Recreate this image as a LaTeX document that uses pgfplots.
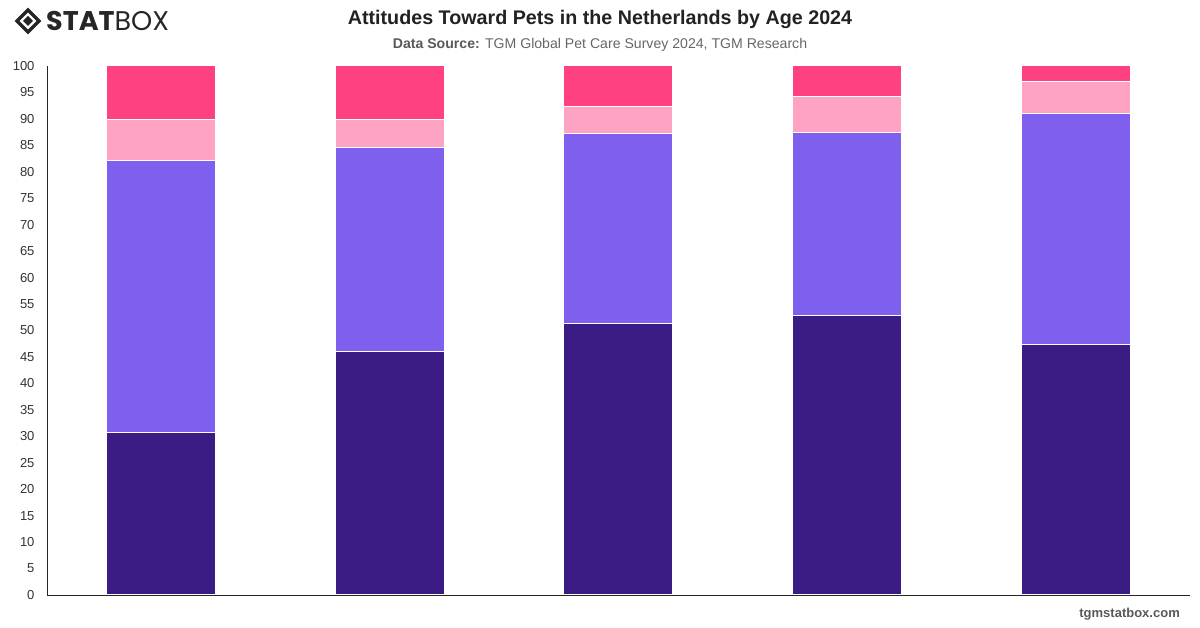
\documentclass[border=0pt]{standalone}
\usepackage{fontspec}
\setmainfont{Liberation Sans}
\newfontfamily\logofont{Poppins}
\usepackage{pgfplots}
\pgfplotsset{compat=1.18}

\definecolor{segA}{HTML}{3A1C84}
\definecolor{segB}{HTML}{7F5FEE}
\definecolor{segC}{HTML}{FFA3C4}
\definecolor{segD}{HTML}{FF4081}
\definecolor{titlegray}{HTML}{222222}
\definecolor{subgray}{HTML}{666666}
\definecolor{tickgray}{HTML}{333333}

\begin{document}
\begin{tikzpicture}[x=1pt,y=1pt]
\path[use as bounding box] (0pt,0pt) rectangle (1200pt,628pt);

% logo
\begin{scope}[shift={(28pt,607pt)}]
  \draw[line width=3.2pt, black!85] (-11pt,0pt) -- (0pt,11pt) -- (11pt,0pt) -- (0pt,-11pt) -- cycle;
  \fill[black!85] (-5pt,0pt) -- (0pt,5pt) -- (5pt,0pt) -- (0pt,-5pt) -- cycle;
\end{scope}
\node[anchor=base west, inner sep=0pt, text=black!85] at (46pt,597pt)
  {\fontsize{27}{30}\selectfont\logofont\bfseries STAT\mdseries BOX};

% titles
\node[anchor=base, inner sep=0pt, text=titlegray] at (600pt,603pt)
  {\fontsize{19.7}{22}\selectfont\bfseries Attitudes Toward Pets in the Netherlands by Age 2024};
\node[anchor=base, inner sep=0pt, text=subgray] at (600pt,579pt)
  {\fontsize{14.1}{16}\selectfont\textbf{\color{black!65}Data Source:} TGM Global Pet Care Survey 2024, TGM Research};

% footer
\node[anchor=base east, inner sep=0pt, text=black!65] at (1180pt,10pt)
  {\fontsize{13}{15}\selectfont\bfseries tgmstatbox.com};

\begin{axis}[
  at={(47pt,33pt)}, anchor=south west,
  scale only axis, width=1143pt, height=529pt,
  ybar stacked, bar width=109pt,
  xmin=-0.5, xmax=4.5, ymin=0, ymax=100,
  xtick=\empty,
  ytick={0,5,...,100},
  axis x line*=bottom, axis y line*=left,
  axis line style={-, line width=0.9pt, black!85},
  major tick length=0pt,
  yticklabel style={font=\fontsize{13}{15}\selectfont, text=tickgray, xshift=-9pt},
  /pgf/number format/assume math mode=true,
  every axis plot/.append style={draw=white, line width=1pt},
  clip=false,
]
\addplot[fill=segA] coordinates {(0,30.8) (1,46.1) (2,51.3) (3,52.8) (4,47.3)};
\addplot[fill=segB] coordinates {(0,51.4) (1,38.4) (2,36.0) (3,34.7) (4,43.8)};
\addplot[fill=segC] coordinates {(0,7.7) (1,5.3) (2,5.1) (3,6.8) (4,5.9)};
\addplot[fill=segD] coordinates {(0,10.1) (1,10.2) (2,7.6) (3,5.7) (4,3.0)};
\end{axis}
\end{tikzpicture}
\end{document}
